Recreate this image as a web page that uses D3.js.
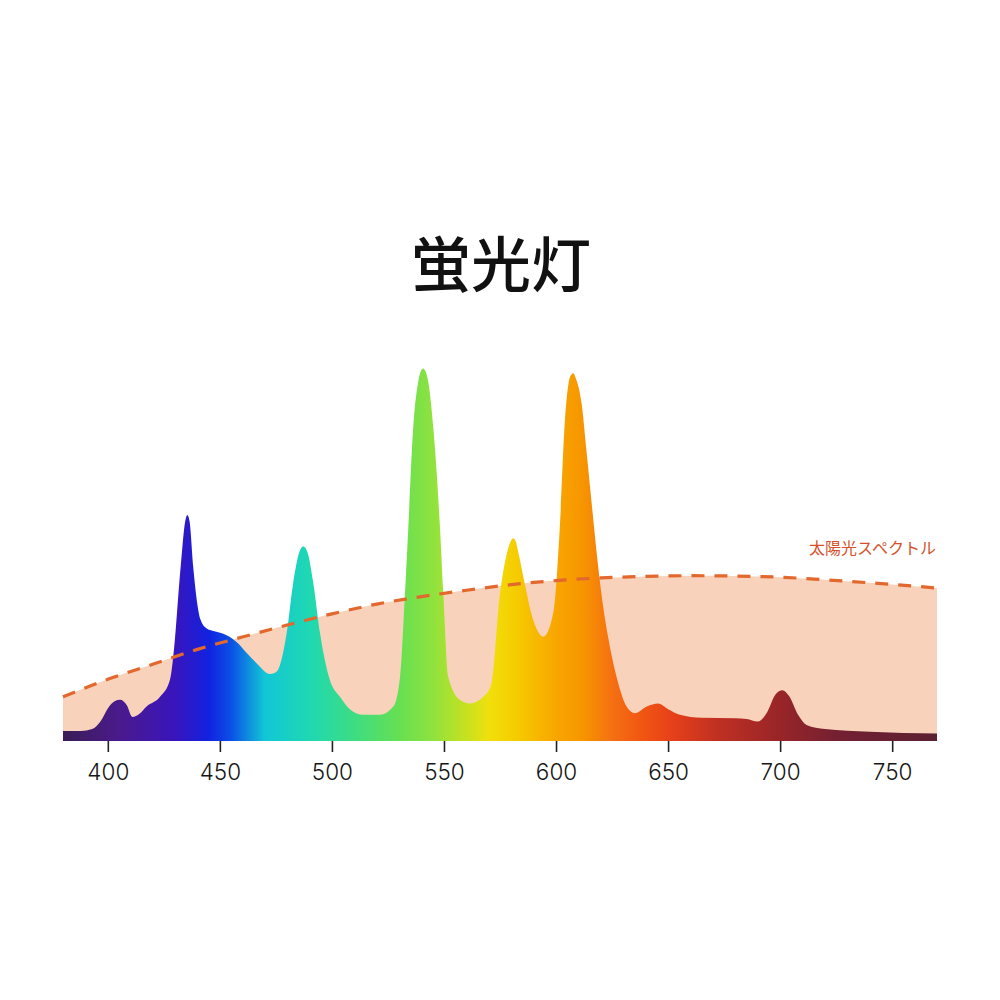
<!DOCTYPE html>
<html>
<head>
<meta charset="utf-8">
<script src="https://cdn.jsdelivr.net/npm/d3@7"></script>
<style>
  body { margin: 0; background: #fff; }
  svg { display: block; }
</style>
</head>
<body>
<div id="chart"></div>
<script>
var svgW = 1000;
var svgH = 1000;

// fluorescent lamp spectrum (relative intensity)
var lampNm = [380, 388, 393, 397, 400, 403, 405.5, 408.4, 411, 414, 417.3, 423.3, 427.7, 429.2, 432.5,
  434.5, 435.5, 436.5, 438.1, 441.4, 444.1, 448, 453, 458.2, 462, 466.4, 472.4, 475.3, 479.8, 482.7,
  485.5, 487.2, 489, 491.7, 494.7, 499.1, 503.6, 508, 514, 521.4, 527.4, 530.4, 532.6, 534.1, 536.3,
  538.5, 539.6, 540.7, 541.8, 543, 545.2, 548.2, 549.7, 551.9, 557.1, 561.6, 567.5, 571, 575, 578,
  579.8, 580.9, 582, 583.5, 585.4, 589.8, 594.3, 598.7, 601.7, 604, 605.7, 606.9, 607.7, 608.8,
  611.4, 613.6, 615.9, 618.1, 620.3, 623.3, 627, 631.5, 635.2, 640.5, 645.6, 650,
  655.3, 665, 680, 685, 690, 694, 698, 701, 704, 708, 711.8, 720, 740, 770];
var lampValues = [2.7, 2.7, 3.2, 5.5, 8.7, 10.6, 11, 9.6, 6.4, 7.2, 9.2, 11.8, 16.3, 22.5, 46.6,
  58.6, 60.4, 58.6, 46.6, 32.4, 30.1, 29.3, 28.3, 26.1, 23.5, 20.8, 17.9, 18.5, 28.8, 42.2,
  50.6, 52.0, 50.6, 42.2, 28.8, 16.3, 11.8, 8.5, 7, 7, 9.2, 17.2, 39.5, 57.3, 84,
  96, 98.8, 99.6, 98.8, 96, 84, 57.3, 39.5, 17.2, 11, 10, 11.8, 15, 39.5, 50,
  53.4, 54.2, 53.4, 49.5, 43.9, 32.4, 27.9, 34.1, 57.3, 86, 96, 98, 98.3, 97,
  90.3, 77.5, 63.6, 50.5, 39.2, 27.6, 17.2, 9.2, 7.4, 9.2, 10, 8.5,
  7, 6.2, 6.1, 5.9, 5.2, 7.5, 12.5, 13.6, 12, 7, 4.3, 3.2, 2.5, 2];

// sunlight spectrum (dashed curve)
var sunNm = [380, 400, 420, 440, 460, 480, 500, 520, 540, 560, 580, 600, 620, 640, 660, 680, 700, 720, 740, 760, 770];
var sunValues = [11.8, 16.5, 20.5, 24.5, 27.8, 31, 34, 36.6, 38.6, 40.3, 41.8, 42.9, 43.6, 44, 44.2, 44.1, 43.8, 43.1, 42.3, 41.4, 40.9];

var tickValues = [400, 450, 500, 550, 600, 650, 700, 750];

var title = "蛍光灯";
var sunLabel = "太陽光スペクトル";

// colour of light along the wavelength axis
var spectrumStops = [
  [380, "#3a1d55"], [405, "#4a1a8c"], [430, "#3915bd"], [445, "#1122e0"], [455, "#0b50e6"],
  [470, "#12c6d6"], [490, "#1fd8b2"], [510, "#3ddd82"], [530, "#66e052"], [545, "#8fe23e"],
  [560, "#c6e120"], [570, "#f0e00c"], [582, "#f6cc00"], [600, "#f8a600"], [612, "#f79500"],
  [625, "#f57012"], [640, "#f05312"], [652, "#e6401a"], [672, "#c03022"], [700, "#982528"],
  [725, "#742032"], [770, "#5b2131"]
];

var svg = d3.select("#chart")
  .append("svg")
  .attr("width", svgW)
  .attr("height", svgH);

var x = d3.scaleLinear()
  .domain([380, 770])
  .range([63, 937]);

var y = d3.scaleLinear()
  .domain([0, 100])
  .range([741, 367]);

var defs = svg.append("defs");
var grad = defs.append("linearGradient")
  .attr("id", "spectrum")
  .attr("gradientUnits", "userSpaceOnUse")
  .attr("x1", x(380)).attr("x2", x(770))
  .attr("y1", 0).attr("y2", 0);

grad.selectAll("stop")
  .data(spectrumStops)
  .enter()
  .append("stop")
  .attr("offset", d => (d[0] - 380) / (770 - 380))
  .attr("stop-color", d => d[1]);

var sunData = sunNm.map((n, i) => ({ nm: n, v: sunValues[i] }));
var lampData = lampNm.map((n, i) => ({ nm: n, v: lampValues[i] }));

var sunArea = d3.area()
  .x(d => x(d.nm))
  .y0(y(0))
  .y1(d => y(d.v))
  .curve(d3.curveMonotoneX);

var sunLine = d3.line()
  .x(d => x(d.nm))
  .y(d => y(d.v))
  .curve(d3.curveMonotoneX);

var lampArea = d3.area()
  .x(d => x(d.nm))
  .y0(y(0))
  .y1(d => y(d.v))
  .curve(d3.curveMonotoneX);

svg.append("path")
  .datum(sunData)
  .attr("d", sunArea)
  .attr("fill", "#f9d2bb");

svg.append("path")
  .datum(lampData)
  .attr("d", lampArea)
  .attr("fill", "url(#spectrum)");

svg.append("path")
  .datum(sunData)
  .attr("d", sunLine)
  .attr("fill", "none")
  .attr("stroke", "#e2682e")
  .attr("stroke-width", 3.2)
  .attr("stroke-dasharray", "13,10");

// axis: ticks and labels only, no domain line
var xAxis = svg.append("g")
  .attr("transform", `translate(0, ${y(0)})`)
  .call(d3.axisBottom(x).tickValues(tickValues).tickSize(11).tickPadding(12));

xAxis.select(".domain").remove();
xAxis.selectAll(".tick line")
  .attr("stroke", "#222")
  .attr("stroke-width", 1.6);
xAxis.selectAll(".tick text")
  .attr("fill", "#151515")
  .attr("font-family", "Inter, 'Noto Sans', sans-serif")
  .attr("font-weight", 300)
  .attr("font-size", 22.5);

svg.append("text")
  .attr("x", 501)
  .attr("y", 287)
  .attr("text-anchor", "middle")
  .attr("font-family", "'Noto Sans CJK JP', sans-serif")
  .attr("font-weight", 500)
  .attr("font-size", 60)
  .attr("fill", "#111")
  .text(title);

svg.append("text")
  .attr("x", 936)
  .attr("y", 554)
  .attr("text-anchor", "end")
  .attr("font-family", "'Noto Sans CJK JP', sans-serif")
  .attr("font-size", 16)
  .attr("fill", "#d4512a")
  .text(sunLabel);
</script>
</body>
</html>
